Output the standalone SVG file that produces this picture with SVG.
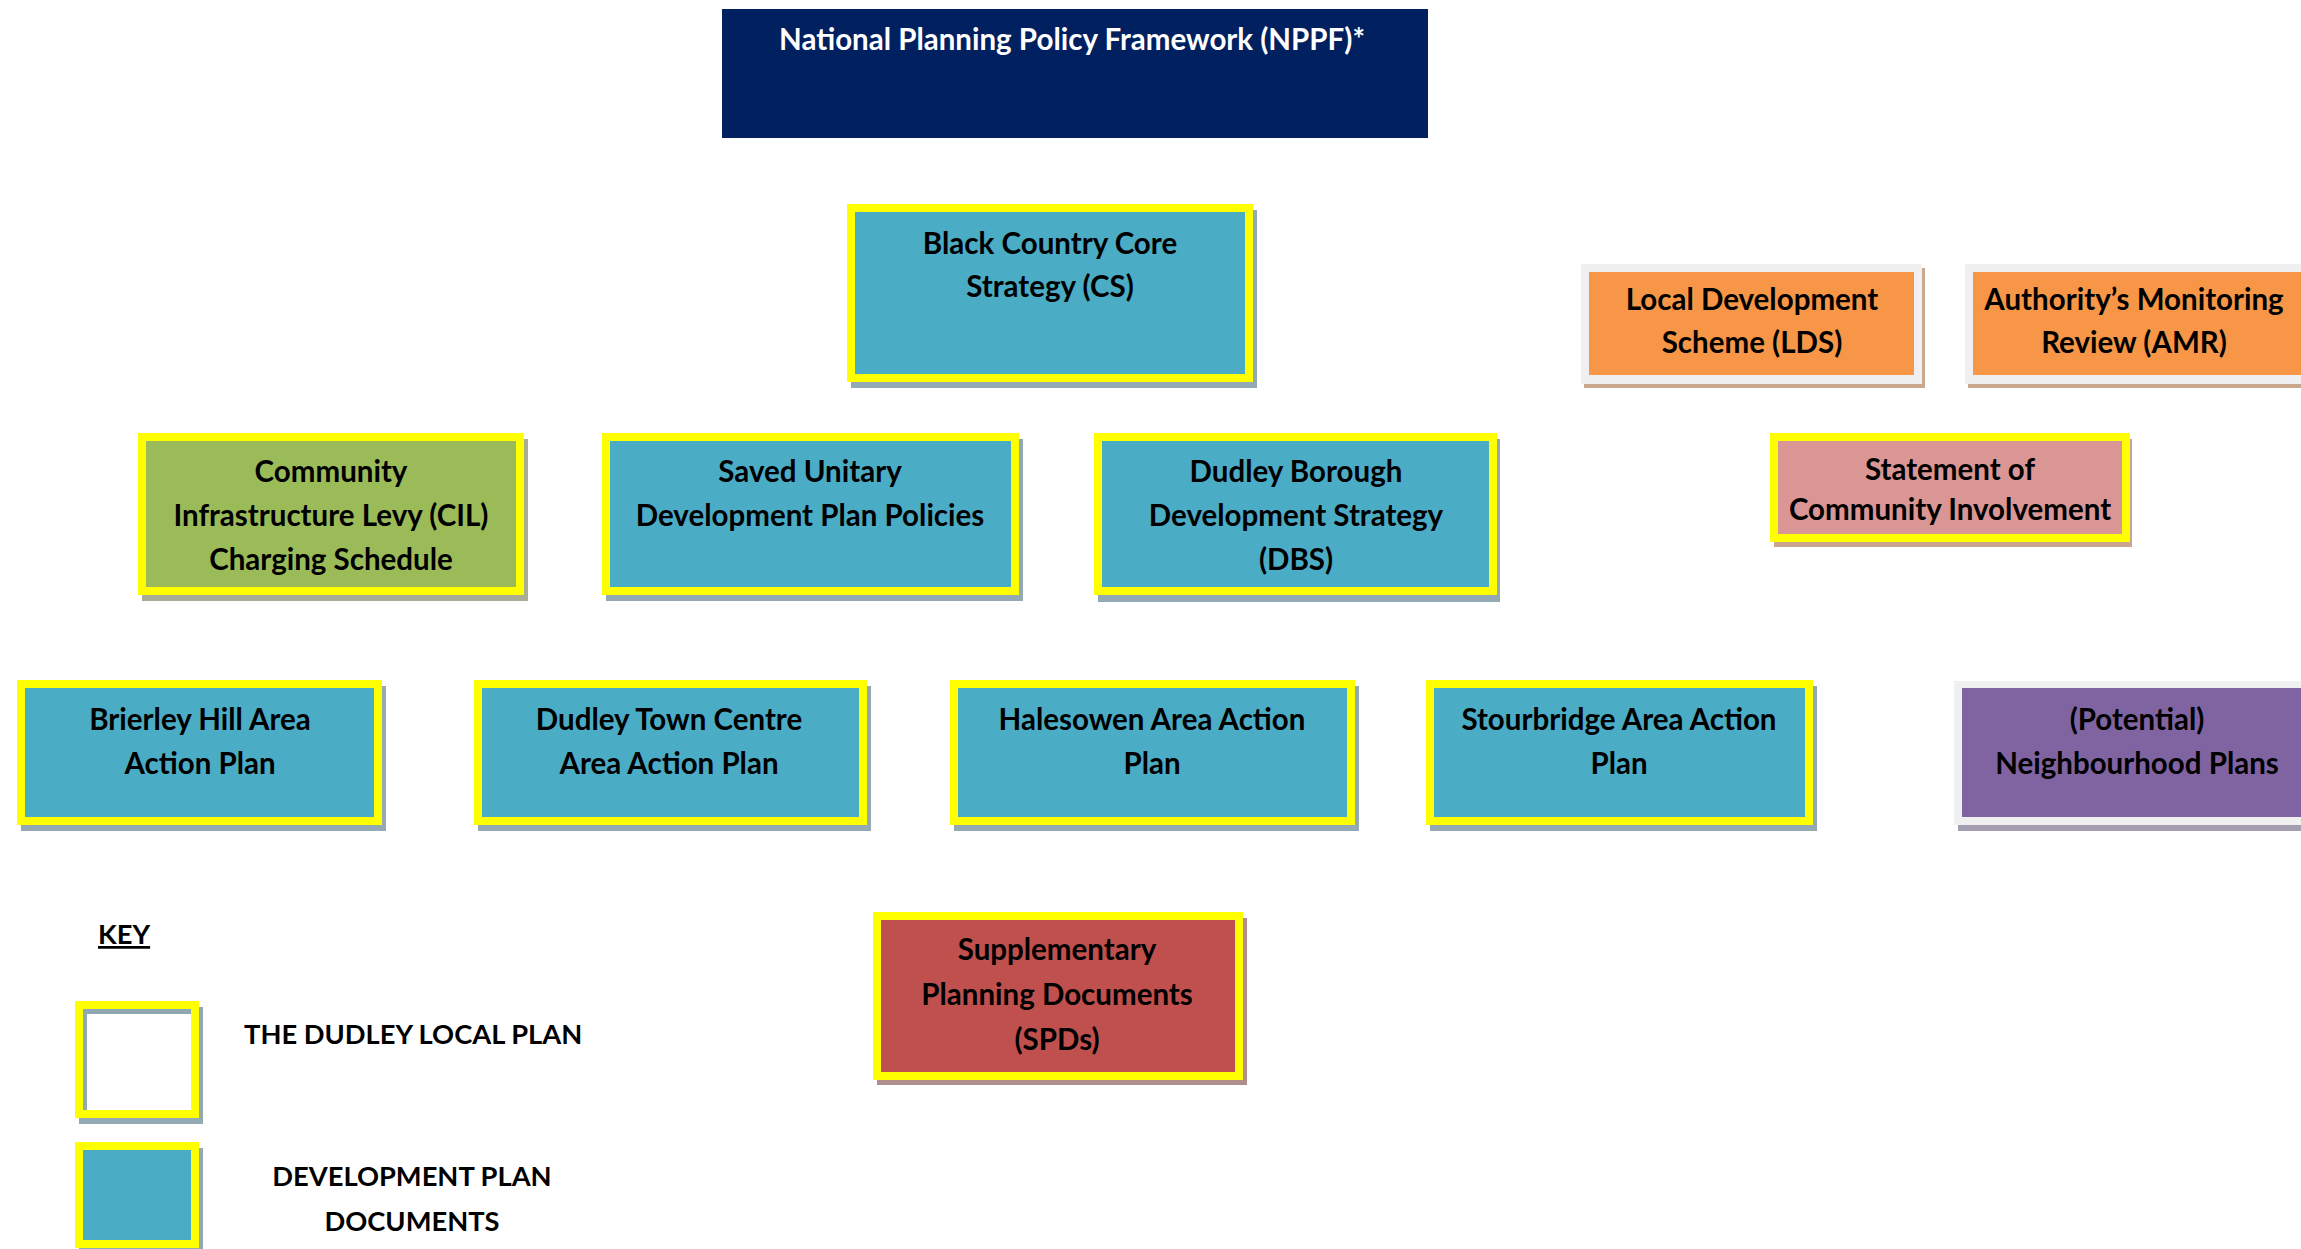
<svg xmlns="http://www.w3.org/2000/svg" width="2301" height="1249" viewBox="0 0 2301 1249">
<style>
text{font-family:Lato,"Open Sans","Liberation Sans",sans-serif;font-weight:bold;font-size:29.5px;fill:#000;text-anchor:middle}
.w{fill:#fff}
.yb{stroke:#ffff00;stroke-width:8}
.teal{fill:#4bacc6}
.sh{fill:#93a9b3}
.frame{fill:#f0f0f0}
.l{text-anchor:start}
.k{font-size:27.3px}
</style>
<rect width="2301" height="1249" fill="#fff"/>
<g id="nppf">
<rect x="722" y="9" width="706" height="129" fill="#002060"/>
<text class="w" x="1072" y="50">National Planning Policy Framework (NPPF)*</text>
</g>
<g id="cs">
<rect class="sh" x="851" y="210" width="406" height="178"/>
<rect class="teal yb" x="851" y="208" width="398" height="170"/>
<text x="1050" y="254">Black Country Core</text>
<text x="1050" y="297">Strategy (CS)</text>
</g>
<g id="lds">
<rect x="1584" y="268" width="341" height="120" fill="#c9a88d"/>
<rect class="frame" x="1581" y="264" width="341" height="120"/>
<rect x="1589" y="272" width="325" height="103" fill="#f79646"/>
<text x="1752" y="310">Local Development</text>
<text x="1752" y="353">Scheme (LDS)</text>
</g>
<g id="amr">
<rect x="1968" y="268" width="345" height="120" fill="#c9a88d"/>
<rect class="frame" x="1965" y="264" width="345" height="120"/>
<rect x="1973" y="272" width="340" height="103" fill="#f79646"/>
<text x="2134" y="310">Authority’s Monitoring</text>
<text x="2134" y="353">Review (AMR)</text>
</g>
<g id="cil">
<rect x="142" y="439" width="386" height="162" fill="#a9ad95"/>
<rect class="yb" x="142" y="437" width="378" height="154" fill="#9bbb59"/>
<text x="331" y="482">Community</text>
<text x="331" y="526">Infrastructure Levy (CIL)</text>
<text x="331" y="570">Charging Schedule</text>
</g>
<g id="udp">
<rect class="sh" x="606" y="439" width="417" height="162"/>
<rect class="teal yb" x="606" y="437" width="409" height="154"/>
<text x="810" y="482">Saved Unitary</text>
<text x="810" y="526">Development Plan Policies</text>
</g>
<g id="dbs">
<rect class="sh" x="1098" y="439" width="402" height="163"/>
<rect class="teal yb" x="1098" y="437" width="395" height="154"/>
<text x="1296" y="482">Dudley Borough</text>
<text x="1296" y="526">Development Strategy</text>
<text x="1296" y="570">(DBS)</text>
</g>
<g id="sci">
<rect x="1774" y="439" width="358" height="108" fill="#cba590"/>
<rect class="yb" x="1774" y="437" width="352" height="101" fill="#d99694"/>
<text x="1950" y="480">Statement of</text>
<text x="1950" y="520">Community Involvement</text>
</g>
<g id="brierley">
<rect class="sh" x="21" y="686" width="365" height="145"/>
<rect class="teal yb" x="21" y="684" width="357" height="137"/>
<text x="200" y="730">Brierley Hill Area</text>
<text x="200" y="774">Action Plan</text>
</g>
<g id="dudley-tc">
<rect class="sh" x="478" y="686" width="393" height="145"/>
<rect class="teal yb" x="478" y="684" width="385" height="137"/>
<text x="669" y="730">Dudley Town Centre</text>
<text x="669" y="774">Area Action Plan</text>
</g>
<g id="halesowen">
<rect class="sh" x="954" y="686" width="405" height="145"/>
<rect class="teal yb" x="954" y="684" width="397" height="137"/>
<text x="1152" y="730">Halesowen Area Action</text>
<text x="1152" y="774">Plan</text>
</g>
<g id="stourbridge">
<rect class="sh" x="1430" y="686" width="387" height="145"/>
<rect class="teal yb" x="1430" y="684" width="379" height="137"/>
<text x="1619" y="730">Stourbridge Area Action</text>
<text x="1619" y="774">Plan</text>
</g>
<g id="neighbourhood">
<rect x="1958" y="686" width="360" height="145" fill="#a49eb1"/>
<rect class="frame" x="1954" y="681" width="360" height="144"/>
<rect x="1962" y="688" width="350" height="129" fill="#8064a2"/>
<text x="2137" y="730">(Potential)</text>
<text x="2137" y="774">Neighbourhood Plans</text>
</g>
<g id="spds">
<rect x="877" y="918" width="370" height="167" fill="#b08e8e"/>
<rect class="yb" x="877" y="916" width="362" height="160" fill="#c0504d"/>
<text x="1057" y="960">Supplementary</text>
<text x="1057" y="1005">Planning Documents</text>
<text x="1057" y="1050">(SPDs)</text>
</g>
<g id="key">
<text class="l k" x="98" y="944" text-decoration="underline">KEY</text>
<g id="key-local-plan">
<rect class="sh" x="79" y="1007" width="124" height="117"/>
<rect x="79" y="1005" width="116" height="109" fill="#fff" stroke="#ffff00" stroke-width="8"/>
<rect x="83" y="1009" width="108" height="5" fill="#8fa9b3"/>
<rect x="83" y="1009" width="4" height="101" fill="#8fa9b3"/>
<text class="l k" x="244" y="1044">THE DUDLEY LOCAL PLAN</text>
</g>
<g id="key-dpd">
<rect class="sh" x="79" y="1148" width="124" height="110"/>
<rect class="teal yb" x="79" y="1146" width="116" height="98"/>
<text class="k" x="412" y="1186">DEVELOPMENT PLAN</text>
<text class="k" x="412" y="1231">DOCUMENTS</text>
</g>
</g>
<g id="connectors"></g>
</svg>
